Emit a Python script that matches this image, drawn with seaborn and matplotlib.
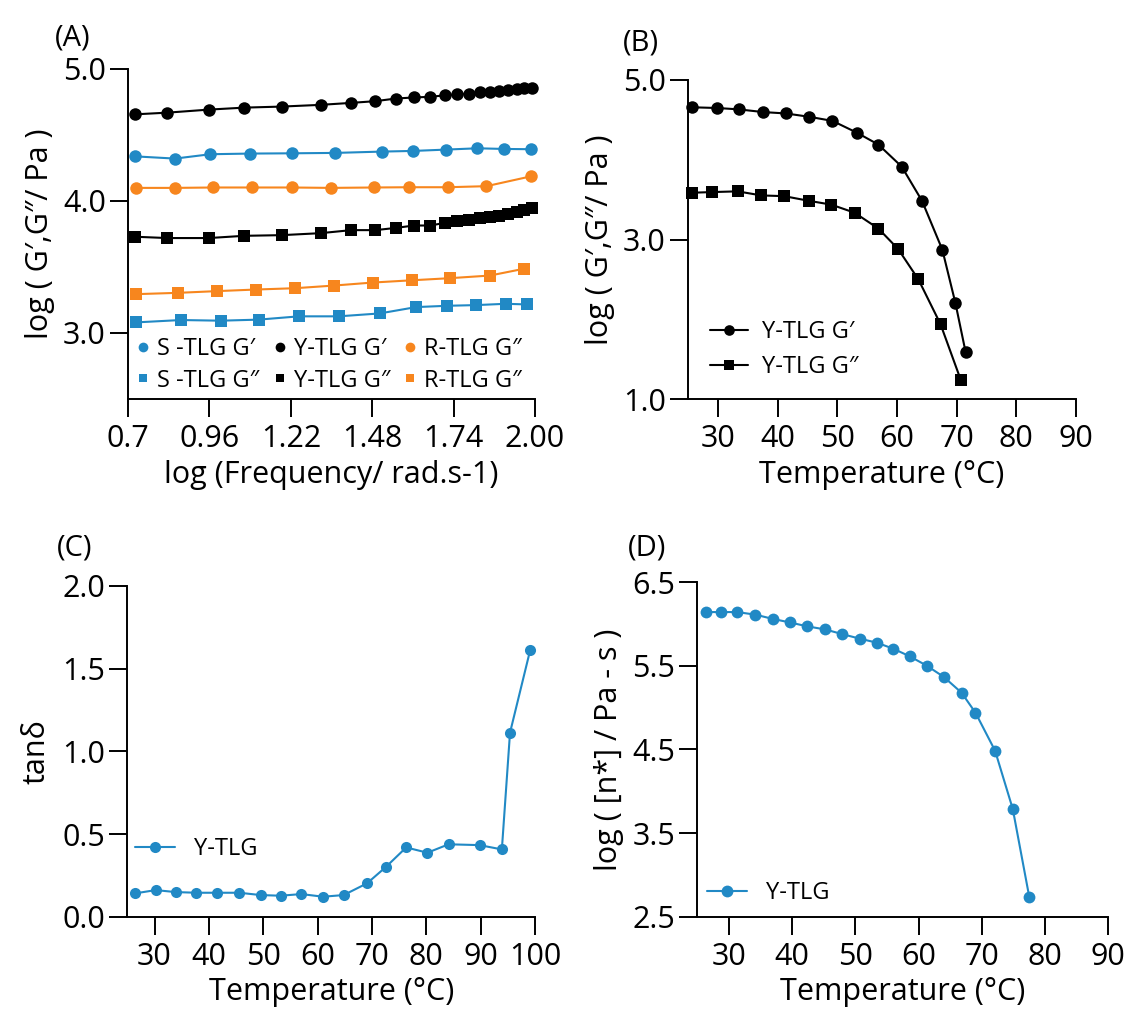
import numpy as np
import pandas as pd
import matplotlib
matplotlib.use("Agg")
import matplotlib.pyplot as plt
from matplotlib.lines import Line2D
import seaborn as sns

# ---------------- data ----------------
# (A) frequency sweep, log10 frequency vs log10 modulus
freq_y = [0.721, 0.826, 0.958, 1.071, 1.191, 1.315, 1.413, 1.490, 1.556, 1.613,
          1.666, 1.711, 1.752, 1.789, 1.824, 1.856, 1.886, 1.915, 1.941, 1.966, 1.989]
y_gp = [4.656, 4.669, 4.692, 4.707, 4.715, 4.728, 4.743, 4.756, 4.776, 4.784,
        4.789, 4.800, 4.807, 4.814, 4.822, 4.827, 4.835, 4.840, 4.845, 4.852, 4.857]
y_gpp = [3.729, 3.719, 3.719, 3.736, 3.741, 3.756, 3.779, 3.779, 3.796, 3.814,
         3.814, 3.834, 3.847, 3.854, 3.869, 3.879, 3.889, 3.902, 3.915, 3.930, 3.950]

freq_s_gp = [0.721, 0.850, 0.963, 1.091, 1.223, 1.362, 1.511, 1.611, 1.715, 1.816, 1.901, 1.986]
s_gp = [4.338, 4.321, 4.354, 4.359, 4.361, 4.364, 4.374, 4.379, 4.389, 4.399, 4.394, 4.392]
freq_s_gpp = [0.725, 0.869, 0.996, 1.117, 1.246, 1.373, 1.504, 1.620, 1.720, 1.811, 1.906, 1.975]
s_gpp = [3.080, 3.098, 3.093, 3.101, 3.126, 3.126, 3.148, 3.196, 3.206, 3.211, 3.221, 3.216]

freq_r_gp = [0.725, 0.850, 0.973, 1.097, 1.223, 1.347, 1.486, 1.597, 1.721, 1.845, 1.986]
r_gp = [4.099, 4.099, 4.102, 4.102, 4.102, 4.099, 4.102, 4.104, 4.104, 4.112, 4.186]
freq_r_gpp = [0.725, 0.860, 0.984, 1.108, 1.233, 1.357, 1.482, 1.606, 1.728, 1.856, 1.966]
r_gpp = [3.294, 3.304, 3.317, 3.329, 3.339, 3.359, 3.382, 3.399, 3.415, 3.435, 3.487]

freq_ticks = [0.7, 0.96, 1.22, 1.48, 1.74, 2.00]
freq_tick_labels = ["0.7", "0.96", "1.22", "1.48", "1.74", "2.00"]

# (B) temperature sweep of Y-TLG moduli
temp_b_gp = [25.7, 29.9, 33.5, 37.6, 41.4, 45.3, 49.2, 53.3, 56.9, 60.8, 64.2, 67.6, 69.8, 71.5]
b_gp = [4.653, 4.644, 4.627, 4.593, 4.576, 4.534, 4.483, 4.335, 4.186, 3.911,
        3.483, 2.873, 2.203, 1.593]
temp_b_gpp = [25.7, 29.1, 33.3, 37.3, 41.1, 45.3, 49.0, 52.9, 56.9, 60.2, 63.6, 67.3, 70.7]
b_gpp = [3.585, 3.593, 3.602, 3.551, 3.542, 3.483, 3.436, 3.335, 3.136, 2.881,
         2.500, 1.941, 1.242]

# (C) loss tangent of Y-TLG
temp_c = [26.4, 30.2, 33.9, 37.7, 41.5, 45.6, 49.5, 53.2, 57.0, 61.0,
          64.8, 69.1, 72.6, 76.3, 80.2, 84.1, 89.8, 93.9, 95.4, 99.1]
tan_delta = [0.141, 0.161, 0.149, 0.145, 0.145, 0.145, 0.131, 0.127, 0.137, 0.121,
             0.131, 0.202, 0.302, 0.419, 0.387, 0.438, 0.433, 0.407, 1.113, 1.611]

# (D) complex viscosity of Y-TLG
temp_d = [26.3, 28.8, 31.3, 34.2, 37.0, 39.6, 42.4, 45.2, 47.9, 50.7,
          53.4, 56.0, 58.6, 61.3, 64.0, 66.8, 69.0, 72.1, 74.9, 77.5]
log_eta = [6.141, 6.141, 6.141, 6.110, 6.058, 6.018, 5.970, 5.934, 5.878, 5.823,
           5.775, 5.703, 5.612, 5.500, 5.365, 5.177, 4.938, 4.484, 3.787, 2.739]

BLUE = "#2189c5"
ORANGE = "#f7861e"
BLACK = "#000000"

# ---------------- style ----------------
sns.set_theme(style="ticks")
plt.rcParams["font.family"] = ["Open Sans", "DejaVu Sans"]
plt.rcParams.update({
    "axes.linewidth": 1.4,
    "xtick.major.width": 1.4,
    "ytick.major.width": 1.4,
    "xtick.major.size": 13,
    "ytick.major.size": 13,
    "xtick.major.pad": 5,
    "ytick.major.pad": 3,
    "xtick.labelsize": 22,
    "ytick.labelsize": 22,
    "axes.labelsize": 22,
    "text.color": "black",
    "axes.labelcolor": "black",
    "xtick.color": "black",
    "ytick.color": "black",
    "axes.edgecolor": "black",
})

fig = plt.figure(figsize=(11.34, 10.17), dpi=100)
axA = fig.add_axes([0.1129, 0.6077, 0.3589, 0.3245])
axB = fig.add_axes([0.6067, 0.6072, 0.3422, 0.3146])
axC = fig.add_axes([0.1123, 0.0986, 0.3595, 0.3252])
axD = fig.add_axes([0.6149, 0.0986, 0.3624, 0.3291])

for ax in (axA, axB, axC, axD):
    sns.despine(ax=ax)


def draw(ax, x, y, color, marker, ms, label=None):
    sns.lineplot(x=x, y=y, ax=ax, color=color, marker=marker, markersize=ms,
                 markeredgewidth=0, linewidth=1.5, sort=False, estimator=None,
                 label=label, legend=False, clip_on=False)


# ---- (A) ----
draw(axA, freq_y, y_gp, BLACK, "o", 9)
draw(axA, freq_s_gp, s_gp, BLUE, "o", 9)
draw(axA, freq_r_gp, r_gp, ORANGE, "o", 9)
draw(axA, freq_y, y_gpp, BLACK, "s", 8)
draw(axA, freq_r_gpp, r_gpp, ORANGE, "s", 8)
draw(axA, freq_s_gpp, s_gpp, BLUE, "s", 8)
axA.set_xlim(0.7, 2.0)
axA.set_ylim(2.5, 5.0)
axA.set_xticks(freq_ticks)
axA.set_xticklabels(freq_tick_labels)
axA.set_yticks([3.0, 4.0, 5.0])
axA.set_yticklabels(["3.0", "4.0", "5.0"])
axA.set_xlabel("log (Frequency/ rad.s-1)", labelpad=4)
axA.set_ylabel("log ( G\u2032,G\u2033/ Pa )", labelpad=6)

handlesA = [
    Line2D([], [], linestyle="none", marker="o", color=BLUE, markersize=7, markeredgewidth=0),
    Line2D([], [], linestyle="none", marker="s", color=BLUE, markersize=6, markeredgewidth=0),
    Line2D([], [], linestyle="none", marker="o", color=BLACK, markersize=7, markeredgewidth=0),
    Line2D([], [], linestyle="none", marker="s", color=BLACK, markersize=6, markeredgewidth=0),
    Line2D([], [], linestyle="none", marker="o", color=ORANGE, markersize=7, markeredgewidth=0),
    Line2D([], [], linestyle="none", marker="s", color=ORANGE, markersize=6, markeredgewidth=0),
]
labelsA = ["S -TLG G\u2032", "S -TLG G\u2033", "Y-TLG G\u2032", "Y-TLG G\u2033",
           "R-TLG G\u2033", "R-TLG G\u2033"]
axA.legend(handlesA, labelsA, ncol=3, loc="center left", bbox_to_anchor=(0.02, 0.103),
           frameon=False, fontsize=17, handlelength=0.6, handletextpad=0.3,
           columnspacing=0.55, labelspacing=0.3, borderaxespad=0.0, borderpad=0.0)

# ---- (B) ----
draw(axB, temp_b_gp, b_gp, BLACK, "o", 9, "Y-TLG G\u2032")
draw(axB, temp_b_gpp, b_gpp, BLACK, "s", 8, "Y-TLG G\u2033")
axB.set_xlim(25, 90)
axB.set_ylim(1.0, 5.0)
axB.set_xticks([30, 40, 50, 60, 70, 80, 90])
axB.set_yticks([1.0, 3.0, 5.0])
axB.set_yticklabels(["1.0", "3.0", "5.0"])
axB.set_xlabel("Temperature (\u00b0C)", labelpad=4)
axB.set_ylabel("log ( G\u2032,G\u2033/ Pa )", labelpad=6)
axB.legend(loc="center left", bbox_to_anchor=(0.057, 0.156), frameon=False, fontsize=17,
           handlelength=1.6, handletextpad=0.6, labelspacing=0.45, markerscale=0.85,
           borderaxespad=0.0, borderpad=0.0)

# ---- (C) ----
draw(axC, temp_c, tan_delta, BLUE, "o", 8, "Y-TLG")
axC.set_xlim(25, 100)
axC.set_ylim(0.0, 2.0)
axC.set_xticks([30, 40, 50, 60, 70, 80, 90, 100])
axC.set_yticks([0.0, 0.5, 1.0, 1.5, 2.0])
axC.set_yticklabels(["0.0", "0.5", "1.0", "1.5", "2.0"])
axC.set_xlabel("Temperature (\u00b0C)", labelpad=4)
axC.set_ylabel("tan\u03b4", labelpad=8)
axC.legend(loc="center left", bbox_to_anchor=(0.019, 0.205), frameon=False, fontsize=17,
           handlelength=1.7, handletextpad=0.8, borderaxespad=0.0, borderpad=0.0)

# ---- (D) ----
draw(axD, temp_d, log_eta, BLUE, "o", 8.5, "Y-TLG")
axD.set_xlim(25, 90)
axD.set_ylim(2.5, 6.5)
axD.set_xticks([30, 40, 50, 60, 70, 80, 90])
axD.set_yticks([2.5, 3.5, 4.5, 5.5, 6.5])
axD.set_yticklabels(["2.5", "3.5", "4.5", "5.5", "6.5"])
axD.set_xlabel("Temperature (\u00b0C)", labelpad=4)
axD.set_ylabel("log ( [n*] / Pa - s )", labelpad=6)
axD.legend(loc="center left", bbox_to_anchor=(0.024, 0.071), frameon=False, fontsize=17,
           handlelength=1.7, handletextpad=0.8, borderaxespad=0.0, borderpad=0.0)

# panel letters
fig.text(0.064, 0.963, "(A)", fontsize=21, ha="center", va="center")
fig.text(0.565, 0.958, "(B)", fontsize=21, ha="center", va="center")
fig.text(0.066, 0.461, "(C)", fontsize=21, ha="center", va="center")
fig.text(0.571, 0.461, "(D)", fontsize=21, ha="center", va="center")

fig.savefig("out.png", dpi=100)
